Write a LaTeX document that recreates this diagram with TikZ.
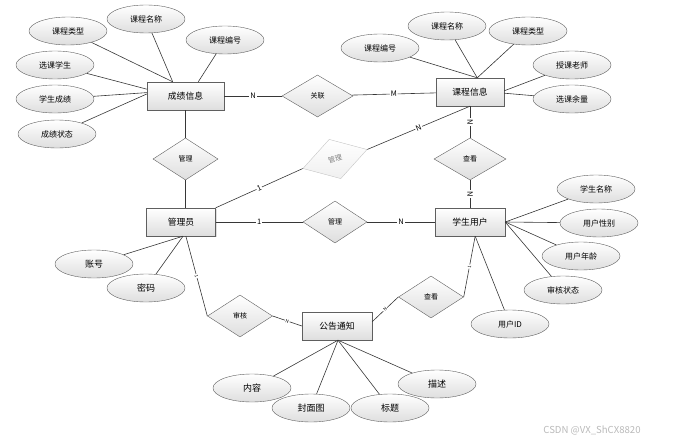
\documentclass[tikz,border=0pt]{standalone}
\usepackage{fontspec}
\setmainfont{Noto Sans CJK SC}
\usetikzlibrary{arrows,shapes.geometric,shadows}

\begin{document}
\begin{tikzpicture}[x=1pt, y=-1pt,
  entity/.style={draw=linegray, top color=white, bottom color=boxgray, minimum width=69pt, minimum height=28pt, inner sep=0pt, font=\fontsize{8.8}{10}\selectfont, drop shadow={shadow xshift=1.2pt, shadow yshift=-1.2pt, opacity=0.25}},
  attr/.style={ellipse, draw=linegray, top color=white, bottom color=boxgray, minimum width=78pt, minimum height=28pt, inner sep=0pt, font=\fontsize{8}{9}\selectfont},
  bigattr/.style={attr, font=\fontsize{9}{10}\selectfont},
  rel/.style={diamond, draw=linegray, top color=white, bottom color=boxgray, minimum width=65pt, minimum height=42pt, inner sep=0pt, font=\fontsize{7}{8}\selectfont},
  card/.style={fill=white, inner sep=0.8pt, sloped, font=\fontsize{7.5}{8}\selectfont},
  tinycard/.style={card, font=\fontsize{4.5}{5}\selectfont},
  link/.style={draw=lineblack, line width=0.6pt}]

% Colours
\definecolor{linegray}{RGB}{95,95,95}
\definecolor{boxgray}{RGB}{222,222,222}
\definecolor{lineblack}{RGB}{55,55,55}

\useasboundingbox (0,0) rectangle (675,444);

% Entities
\node[entity, minimum width=77pt] (cjxx) at (185.5,96) {成绩信息};
\node[entity, minimum width=68pt] (kcxx) at (470,92) {课程信息};
\node[entity] (gly) at (181,222) {管理员};
\node[entity, minimum width=70pt] (xsyh) at (470,222) {学生用户};
\node[entity, minimum width=70pt] (ggtz) at (337,326) {公告通知};

% Relations
\node[rel, minimum width=71pt] (guanlian) at (317.5,96) {关联};
\node[rel] (guanli1) at (185.5,159) {管理};
\node[rel, minimum width=64pt] (guanli2) at (335,222) {管理};
\node[rel, minimum width=72pt] (chakan1) at (470,159) {查看};
\node[rel, minimum width=67pt, minimum height=41pt, rotate=16.5, draw=gray!45, bottom color=gray!12, text=gray] (guanli3) at (335,159) {管理};
\node[rel] (shenhe) at (240,316) {审核};
\node[rel] (chakan2) at (431,297) {查看};

% Attributes of 成绩信息
\node[attr] (cj1) at (68,31) {课程类型};
\node[attr] (cj2) at (146,19) {课程名称};
\node[attr] (cj3) at (225,40) {课程编号};
\node[attr] (cj4) at (55,65) {选课学生};
\node[attr] (cj5) at (55,99) {学生成绩};
\node[attr] (cj6) at (57,134) {成绩状态};

% Attributes of 课程信息
\node[attr] (kc1) at (380,48) {课程编号};
\node[attr] (kc2) at (447,26) {课程名称};
\node[attr] (kc3) at (528,31) {课程类型};
\node[attr] (kc4) at (572,65) {授课老师};
\node[attr] (kc5) at (572,99) {选课余量};

% Attributes of 学生用户
\node[attr] (xs1) at (596,189) {学生名称};
\node[attr] (xs2) at (599,223) {用户性别};
\node[attr] (xs3) at (581,256) {用户年龄};
\node[attr] (xs4) at (563,290) {审核状态};
\node[attr] (xs5) at (510,324) {用户ID};

% Attributes of 管理员
\node[bigattr] (zh) at (94,264) {账号};
\node[bigattr] (mm) at (146,288) {密码};

% Attributes of 公告通知
\node[bigattr] (nr) at (252,388) {内容};
\node[bigattr] (ms) at (437,384) {描述};
\node[bigattr] (bt) at (390,408) {标题};
\node[bigattr] (fmt) at (311,408) {封面图};

% Relation links
\draw[link] (cjxx) -- node[card]{N} (guanlian);
\draw[link] (guanlian) -- node[card]{M} (kcxx);
\draw[link] (cjxx) -- (guanli1);
\draw[link] (guanli1) -- (guanli1.south |- gly.north);
\draw[link] (gly) -- node[card]{1} (guanli2);
\draw[link] (guanli2) -- node[card]{N} (xsyh);
\draw[link] (gly.north east) -- node[card]{1} (guanli3.west);
\draw[link] (guanli3.east) -- node[card]{N} (kcxx.south);
\draw[link] (kcxx) -- node[card]{N} (chakan1);
\draw[link] (chakan1) -- node[card]{N} (xsyh);
\draw[link] (gly.289) -- node[tinycard]{1} (shenhe.west);
\draw[link] (shenhe.east) -- node[tinycard]{N} (ggtz.west);
\draw[link] (ggtz.7) -- node[tinycard]{N} (chakan2.west);
\draw[link] (chakan2.east) -- node[tinycard]{1} (xsyh.290);

% Attribute links
\draw[link] (cj1) -- (cjxx.132);
\draw[link] (cj2) -- (cjxx.132);
\draw[link] (cj3) -- (cjxx.48);
\draw[link] (cj4) -- (cjxx.170);
\draw[link] (cj5) -- (cjxx.175);
\draw[link] (cj6) -- (cjxx.177);
\draw[link] (kc1) -- (kcxx.63);
\draw[link] (kc2) -- (kcxx.63);
\draw[link] (kc3) -- (kcxx.63);
\draw[link] (kc4) -- (kcxx.2);
\draw[link] (kc5) -- (kcxx.358);
\draw[link] (xs1) -- (xsyh.east);
\draw[link] (xs2) -- (xsyh.east);
\draw[link] (xs3) -- (xsyh.east);
\draw[link] (xs4) -- (xsyh.east);
\draw[link] (xs5) -- (xsyh.290);
\draw[link] (zh) -- (gly.278);
\draw[link] (mm) -- (gly.278);
\draw[link] (nr) -- (ggtz.274);
\draw[link] (fmt) -- (ggtz.274);
\draw[link] (bt) -- (ggtz.274);
\draw[link] (ms) -- (ggtz.274);

% Watermark
\node[text=gray!55, font=\fontsize{9.6}{10}\selectfont] (wm) at (592,431) {CSDN @VX\_ShCX8820};

\end{tikzpicture}
\end{document}
